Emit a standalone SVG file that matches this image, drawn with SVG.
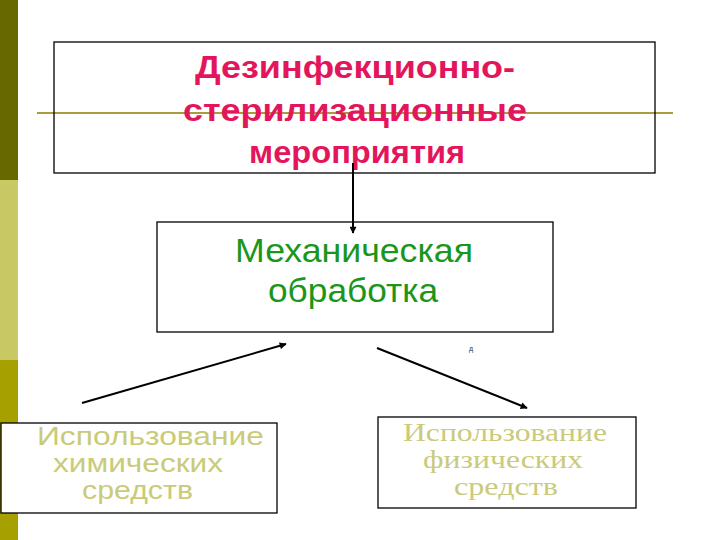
<svg xmlns="http://www.w3.org/2000/svg" width="720" height="540" viewBox="0 0 720 540">
  <defs>
    <marker id="ah" viewBox="0 0 10 10" refX="9" refY="5" markerWidth="8" markerHeight="7" markerUnits="userSpaceOnUse" orient="auto">
      <path d="M0,0 L10,5 L0,10 Z" fill="#000"/>
    </marker>
    <style>
      .box { fill: #fff; stroke: #000; stroke-width: 1.3; }
      .frame { fill: none; stroke: #000; stroke-width: 1.3; }
      .title { font-family: "Liberation Sans", Arial, sans-serif; font-weight: bold; font-size: 32px; fill: #E3165C; }
      .mech { font-family: "Liberation Sans", Arial, sans-serif; font-size: 33px; fill: #1A961A; }
      .chem { font-family: "Liberation Sans", Arial, sans-serif; font-size: 25px; fill: #C9CB78; }
      .phys { font-family: "Liberation Serif", "Times New Roman", serif; font-size: 25px; fill: #CACA7C; }
      .conn { stroke: #000; stroke-width: 2; fill: none; marker-end: url(#ah); }
    </style>
  </defs>
  <rect x="0" y="0" width="720" height="540" fill="#fff"/>
  <g id="sidebar">
    <rect x="0" y="0" width="18" height="180" fill="#686800"/>
    <rect x="0" y="180" width="18" height="180" fill="#C8C864"/>
    <rect x="0" y="360" width="18" height="180" fill="#A6A000"/>
  </g>
  <line id="rule" x1="37" y1="113" x2="673" y2="113" stroke="#A89C3C" stroke-width="2"/>
  <g id="node-top">
    <rect class="frame" x="54" y="42" width="601" height="131"/>
    <text class="title" x="195" y="78" textLength="320" lengthAdjust="spacingAndGlyphs">Дезинфекционно-</text>
    <text class="title" x="183" y="121" textLength="344" lengthAdjust="spacingAndGlyphs">стерилизационные</text>
    <text class="title" x="249" y="163" textLength="216" lengthAdjust="spacingAndGlyphs">мероприятия</text>
  </g>
  <g id="node-mech">
    <rect class="box" x="157" y="222" width="396" height="110"/>
    <text class="mech" x="235" y="262" textLength="238" lengthAdjust="spacingAndGlyphs">Механическая</text>
    <text class="mech" x="268" y="302" textLength="170" lengthAdjust="spacingAndGlyphs">обработка</text>
  </g>
  <text id="note" x="469" y="351" font-family="Liberation Sans, Arial, sans-serif" font-size="7" fill="#333">д</text>
  <g id="node-chem">
    <rect class="box" x="1" y="423" width="276" height="90"/>
    <text class="chem" x="37" y="445" textLength="227" lengthAdjust="spacingAndGlyphs">Использование</text>
    <text class="chem" x="53" y="472" textLength="170" lengthAdjust="spacingAndGlyphs">химических</text>
    <text class="chem" x="82" y="499" textLength="111" lengthAdjust="spacingAndGlyphs">средств</text>
  </g>
  <g id="node-phys">
    <rect class="box" x="378" y="417" width="258" height="91"/>
    <text class="phys" x="403" y="441" textLength="204" lengthAdjust="spacingAndGlyphs">Использование</text>
    <text class="phys" x="423" y="468" textLength="160" lengthAdjust="spacingAndGlyphs">физических</text>
    <text class="phys" x="454" y="495" textLength="104" lengthAdjust="spacingAndGlyphs">средств</text>
  </g>
  <g id="connectors">
    <line class="conn" x1="353" y1="163" x2="353" y2="233"/>
    <line class="conn" x1="82" y1="403" x2="286" y2="344"/>
    <line class="conn" x1="377" y1="348" x2="527" y2="408"/>
  </g>
</svg>
